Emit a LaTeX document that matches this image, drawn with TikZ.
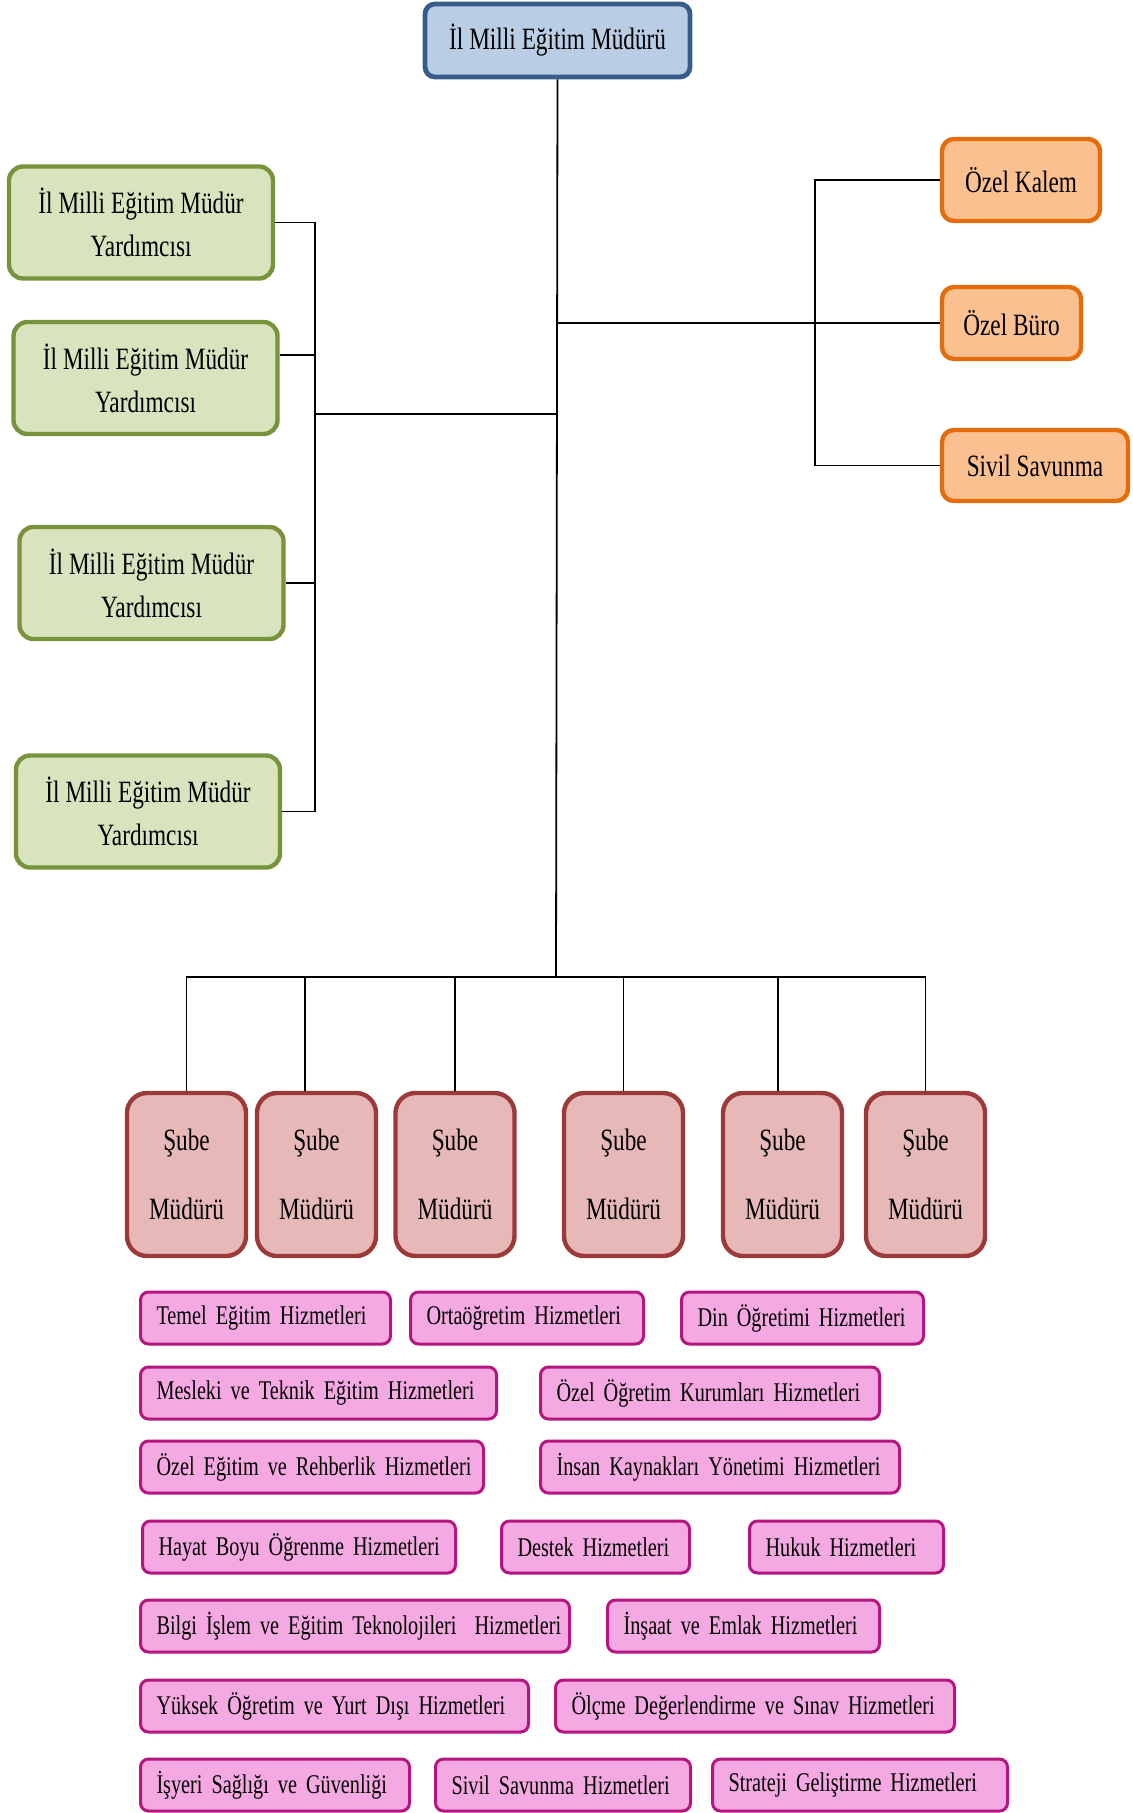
\documentclass[tikz,border=0pt]{standalone}
\usepackage{fontspec}
\setmainfont[FakeStretch=0.75]{Liberation Serif}
\usepackage{tikz}
\usetikzlibrary{calc,positioning}

\definecolor{mudurfill}{HTML}{B9CDE5}
\definecolor{mudurline}{HTML}{385D8A}
\definecolor{yardfill}{HTML}{D7E4BD}
\definecolor{yardline}{HTML}{77933C}
\definecolor{ozelfill}{HTML}{FAC090}
\definecolor{ozelline}{HTML}{E46C0A}
\definecolor{subefill}{HTML}{E6B9B8}
\definecolor{subeline}{HTML}{9B3A38}
\definecolor{hizfill}{HTML}{F5A9E2}
\definecolor{hizline}{HTML}{B4157F}

\newcommand{\hz}[1]{\mbox{#1}}
\newcommand{\bigfont}{\fontsize{15.5}{18}\selectfont\spaceskip=3pt\relax}
\newcommand{\yardfont}{\fontsize{15.5}{21.5}\selectfont\spaceskip=3pt\relax}
\newcommand{\hzfont}{\fontsize{13.5}{16}\selectfont\spaceskip=2.6pt\relax}

\tikzset{
  conn/.style={draw=black, line width=0.9pt},
  mudurbox/.style={draw=mudurline, fill=mudurfill, line width=2.4pt, rounded corners=5pt,
    minimum width=132.5pt, minimum height=36.5pt, font=\bigfont},
  yardbox/.style={draw=yardline, fill=yardfill, line width=2.2pt, rounded corners=7pt,
    minimum width=132pt, minimum height=56pt, align=center, font=\yardfont},
  ozelbox/.style={draw=ozelline, fill=ozelfill, line width=2.2pt, rounded corners=6pt,
    font=\bigfont},
  subebox/.style={draw=subeline, fill=subefill, line width=2.2pt, rounded corners=10pt,
    minimum width=59.5pt, minimum height=81.5pt, align=center, font=\fontsize{15.5}{34.5}\selectfont},
  hizmet/.style={draw=hizline, fill=hizfill, line width=1.5pt, rounded corners=4pt,
    anchor=west, minimum height=26pt, inner xsep=8pt, text width=#1, align=left,
    font=\hzfont}
}

\begin{document}
\begin{tikzpicture}[x=0.5pt,y=-0.5pt]
	\useasboundingbox (0,0) rectangle (1132,1813);
	% ust yonetim
	\node[mudurbox] (mudur) at (557.5,40.5) {İl Milli Eğitim Müdürü};
	\node[yardbox] (g1) at (141,222.5) {İl Milli Eğitim Müdür\\Yardımcısı};
	\node[yardbox] (g2) at (145.5,378) {İl Milli Eğitim Müdür\\Yardımcısı};
	\node[yardbox] (g3) at (151.5,583) {İl Milli Eğitim Müdür\\Yardımcısı};
	\node[yardbox] (g4) at (148,811.5) {İl Milli Eğitim Müdür\\Yardımcısı};
	\node[ozelbox, minimum width=79pt, minimum height=41pt] (o1) at (1021,180) {Özel Kalem};
	\node[ozelbox, minimum width=69.5pt, minimum height=36pt] (o2) at (1011.5,323) {Özel Büro};
	\node[ozelbox, minimum width=93pt, minimum height=35.5pt] (o3) at (1035,465.5) {Sivil Savunma};
	% sube mudurleri
	\node[subebox] (s1) at (186.5,1174.5) {Şube\\Müdürü};
	\node[subebox] (s2) at (316.5,1174.5) {Şube\\Müdürü};
	\node[subebox] (s3) at (455,1174.5) {Şube\\Müdürü};
	\node[subebox] (s4) at (623.5,1174.5) {Şube\\Müdürü};
	\node[subebox] (s5) at (782.5,1174.5) {Şube\\Müdürü};
	\node[subebox] (s6) at (925.5,1174.5) {Şube\\Müdürü};

	\coordinate (lj) at (556,414);
	\coordinate (ls) at (315,414);
	\coordinate (rs) at (815,323);
	\coordinate (bus) at (556,977);

	\draw[conn] (mudur.south) -- (bus);
	\draw[conn] (lj) -- (ls);
	\draw[conn] (g1.east) -| (ls) |- (g4.east);
	\draw[conn] ([yshift=11.5pt]g2.east) -- ([yshift=11.5pt]g2.east -| ls);
	\draw[conn] (g3.east) -- (g3.east -| ls);
	\draw[conn] (o2.west) -- (o2.west -| mudur.south);
	\draw[conn] (o1.west) -| (rs) |- (o3.west);
	\draw[conn] (s1.north) |- (bus) -| (s6.north);
	\draw[conn] ([xshift=-5.75pt]s2.north) -- ([xshift=-5.75pt]s2.north |- bus);
	\draw[conn] ([xshift=-2.25pt]s5.north) -- ([xshift=-2.25pt]s5.north |- bus);
	\foreach \s in {s3,s4}
		\draw[conn] (\s.north) -- (\s.north |- bus);

	% hizmet birimleri
	\node[hizmet=109pt] (h1) at (139,1318) {\hz{Temel Eğitim Hizmetleri}};
	\node[hizmet=100.5pt] (h2) at (409,1318) {\hz{Ortaöğretim Hizmetleri}};
	\node[hizmet=105pt] (h3) at (680,1318) {\hz{Din Öğretimi Hizmetleri}};
	\node[hizmet=162pt] (h4) at (139,1393) {\hz{Mesleki ve Teknik Eğitim Hizmetleri}};
	\node[hizmet=153.5pt] (h5) at (539,1393) {\hz{Özel Öğretim Kurumları Hizmetleri}};
	\node[hizmet=155.5pt] (h6) at (139,1467) {\hz{Özel Eğitim ve Rehberlik Hizmetleri}};
	\node[hizmet=163.5pt] (h7) at (539,1467) {\hz{İnsan Kaynakları Yönetimi Hizmetleri}};
	\node[hizmet=140.5pt] (h8) at (141,1547) {\hz{Hayat Boyu Öğrenme Hizmetleri}};
	\node[hizmet=78pt] (h9) at (500,1547) {\hz{Destek Hizmetleri}};
	\node[hizmet=81pt] (h10) at (748,1547) {\hz{Hukuk Hizmetleri}};
	\node[hizmet=198.5pt] (h11) at (139,1626) {\hz{Bilgi İşlem ve Eğitim Teknolojileri~ Hizmetleri}};
	\node[hizmet=120pt] (h12) at (606,1626) {\hz{İnşaat ve Emlak Hizmetleri}};
	\node[hizmet=178pt] (h13) at (139,1706) {\hz{Yüksek Öğretim ve Yurt Dışı Hizmetleri}};
	\node[hizmet=183.5pt] (h14) at (554,1706) {\hz{Ölçme Değerlendirme ve Sınav Hizmetleri}};
	\node[hizmet=118.5pt] (h15) at (139,1785) {\hz{İşyeri Sağlığı ve Güvenliği}};
	\node[hizmet=111.5pt] (h16) at (434,1785) {\hz{Sivil Savunma Hizmetleri}};
	\node[hizmet=131.5pt] (h17) at (711,1785) {\hz{Strateji Geliştirme Hizmetleri}};
\end{tikzpicture}
\end{document}
